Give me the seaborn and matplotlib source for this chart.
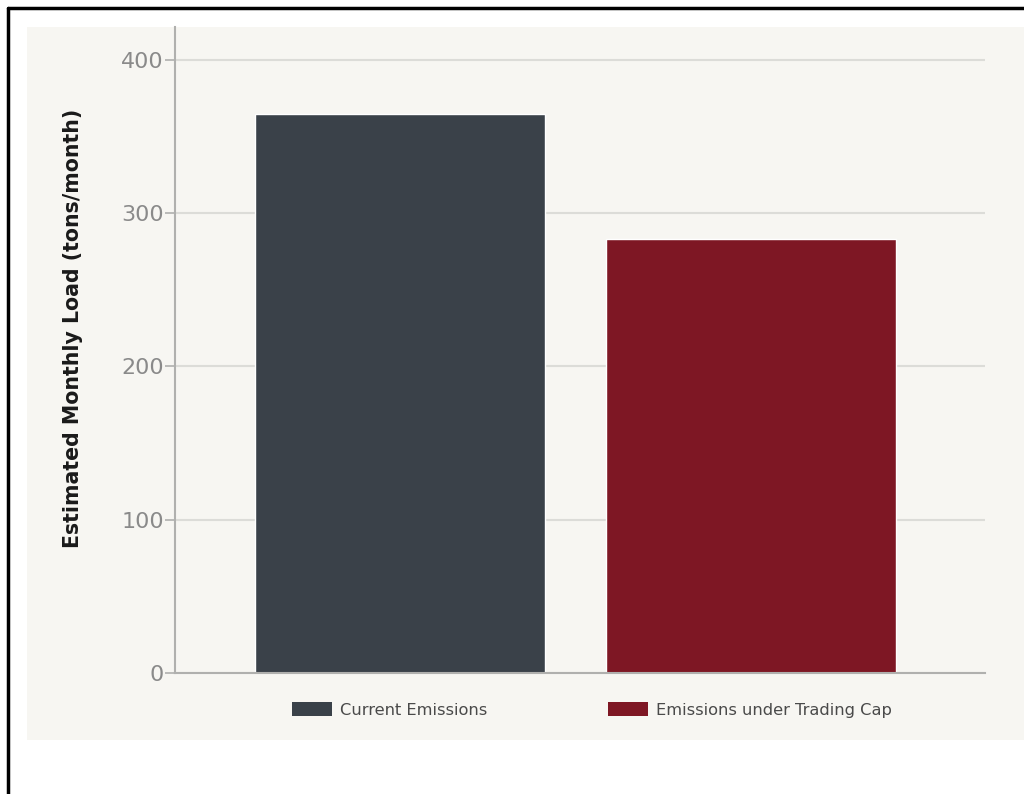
import matplotlib
matplotlib.use("Agg")
import matplotlib.pyplot as plt
import seaborn as sns
from matplotlib.patches import Patch, Rectangle
from matplotlib.lines import Line2D

categories = ["Current Emissions", "Emissions under Trading Cap"]
values = [365, 283]
colors = ["#3a4149", "#7e1724"]
yticks = [0, 100, 200, 300, 400]
ylabel = "Estimated Monthly Load (tons/month)"

sns.set_theme(style="white")
plt.rcParams["font.family"] = ["DejaVu Sans"]

fig = plt.figure(figsize=(10.24, 7.94), dpi=100)
fig.patch.set_facecolor("white")

# panel background
fig.add_artist(Rectangle((27 / 1024, 1 - 740 / 794), 1 - 27 / 1024, (740 - 27) / 794,
                         transform=fig.transFigure, facecolor="#f7f6f2", edgecolor="none", zorder=-10))
# border lines (top and left)
fig.add_artist(Line2D([8 / 1024, 1], [1 - 8 / 794, 1 - 8 / 794], transform=fig.transFigure,
                      color="black", lw=2.5))
fig.add_artist(Line2D([8 / 1024, 8 / 1024], [0, 1 - 8 / 794], transform=fig.transFigure,
                      color="black", lw=2.5))

ax = fig.add_axes([175 / 1024, 1 - 673 / 794, (985 - 175) / 1024, (673 - 27) / 794])
ax.set_facecolor("none")

sns.barplot(x=categories, y=values, hue=categories, palette=colors, width=0.825,
            dodge=False, legend=False, ax=ax, saturation=1)

ax.set_xlim(-0.64, 1.665)
ax.set_ylim(0, 421.5)
ax.set_yticks(yticks)
ax.set_yticklabels([str(v) for v in yticks], fontsize=16, color="#8a8a8a")
ax.set_xticks([])
ax.set_xlabel("")
ax.set_ylabel(ylabel, fontsize=14.8, fontweight="bold", color="#1a1a1a")
ax.yaxis.set_label_coords(-0.114, 0.534)

ax.set_axisbelow(True)
ax.yaxis.grid(True, color="#dcdcd8", lw=1.5)
ax.xaxis.grid(False)
for s in ["top", "right"]:
    ax.spines[s].set_visible(False)
for s in ["left", "bottom"]:
    ax.spines[s].set_color("#b0b0ae")
    ax.spines[s].set_linewidth(1.5)
ax.tick_params(axis="y", left=True, length=7, width=1.2, color="#b0b0ae", pad=1)

handles = [Patch(facecolor=c, edgecolor="none") for c in colors]
fig.legend(handles, categories, loc="center", bbox_to_anchor=(592 / 1024, 1 - 710 / 794),
           ncol=2, frameon=False, fontsize=11.7, handlelength=2.45, handleheight=0.92,
           handletextpad=0.5, columnspacing=7.4, labelcolor="#4a4a4a")

fig.savefig("out.png", dpi=100, facecolor="white")
